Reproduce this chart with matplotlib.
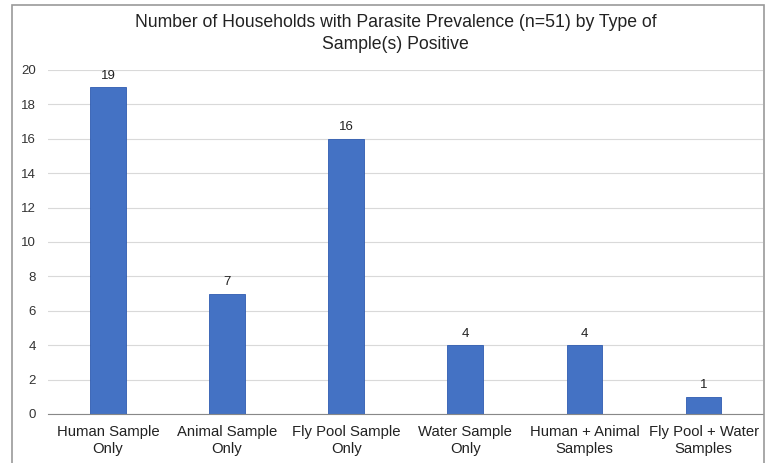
import matplotlib.pyplot as plt
from matplotlib.patches import Rectangle

categories = [
    "Human Sample\nOnly",
    "Animal Sample\nOnly",
    "Fly Pool Sample\nOnly",
    "Water Sample\nOnly",
    "Human + Animal\nSamples",
    "Fly Pool + Water\nSamples",
]
households = [19, 7, 16, 4, 4, 1]
y_ticks = [0, 2, 4, 6, 8, 10, 12, 14, 16, 18, 20]

plt.rcParams["font.family"] = ["Liberation Sans", "DejaVu Sans"]

fig = plt.figure(figsize=(7.67, 4.63), dpi=100)
ax = fig.add_axes([0.063, 0.106, 0.932, 0.743])

x_positions = range(len(categories))
bars = ax.bar(x_positions, households, width=0.30, color="#4472c4",
              edgecolor="#2f5bb0", linewidth=0.6, zorder=3)
ax.bar_label(bars, padding=4, fontsize=9.5, color="#222222")

ax.set_xlim(-0.5, len(categories) - 0.5)
ax.set_ylim(0, 20)
ax.set_yticks(y_ticks)
ax.set_xticks(list(x_positions))
ax.set_xticklabels(categories, fontsize=10.7, color="#222222", linespacing=1.25)
ax.tick_params(axis="y", labelsize=9.5, colors="#333333", length=0, pad=9)
ax.tick_params(axis="x", length=0, pad=8)
ax.grid(axis="y", color="#d9d9d9", linewidth=0.8, zorder=0)
for side in ["top", "right", "left"]:
    ax.spines[side].set_visible(False)
ax.spines["bottom"].set_color("#888888")
ax.spines["bottom"].set_zorder(4)

fig.text(0.516, 0.952, "Number of Households with Parasite Prevalence (n=51) by Type of",
         ha="center", va="center", fontsize=12.7, color="#222222")
fig.text(0.516, 0.903, "Sample(s) Positive",
         ha="center", va="center", fontsize=12.7, color="#222222")

# gray frame around the chart area
fig.patches.append(Rectangle((12 / 767, -0.05), (764 - 12) / 767, 1.05 - 5 / 463,
                             transform=fig.transFigure, fill=False,
                             edgecolor="#9a9a9a", linewidth=1.2))

fig.savefig("out.png", dpi=100)
